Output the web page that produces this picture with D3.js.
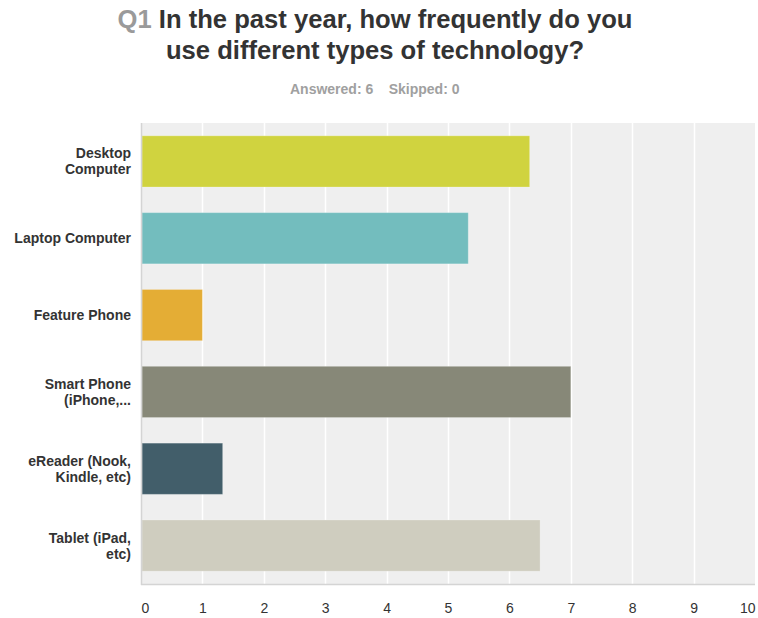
<!DOCTYPE html>
<html>
<head>
<meta charset="utf-8">
<script src="https://cdn.jsdelivr.net/npm/d3@7"></script>
<style>
  html, body { margin: 0; padding: 0; background: #fff; }
  svg { display: block; font-family: "Liberation Sans", Arial, Helvetica, sans-serif; }
</style>
</head>
<body>
<svg id="chart" width="758" height="618"></svg>
<script>
const categories = [
  ["Desktop", "Computer"],
  ["Laptop Computer"],
  ["Feature Phone"],
  ["Smart Phone", "(iPhone,..."],
  ["eReader (Nook,", "Kindle, etc)"],
  ["Tablet (iPad,", "etc)"]
];
const values = [6.33, 5.33, 1, 7, 1.33, 6.5];
const colors = ["#d0d33f", "#73bdbe", "#e4ad35", "#878878", "#425e6a", "#cfcdbf"];
const xTicks = [0, 1, 2, 3, 4, 5, 6, 7, 8, 9, 10];
const titlePrefix = "Q1";
const titleLines = ["In the past year, how frequently do you", "use different types of technology?"];
const answeredText = "Answered: 6";
const skippedText = "Skipped: 0";

const svg = d3.select("#chart");
const margin = { left: 141, right: 3, top: 123, bottom: 34 };
const W = 758, H = 618;
const x0 = margin.left, x1 = W - margin.right;
const y0 = margin.top, y1 = H - margin.bottom;

const x = d3.scaleLinear().domain([0, 10]).range([x0, x1]);
const idx = d3.range(categories.length);
const y = d3.scaleBand().domain(idx).range([y0, y1]).paddingInner(1/3).paddingOuter(1/6);

// Title
const t1 = svg.append("text").attr("x", 375).attr("y", 27.5).attr("text-anchor", "middle")
  .style("font-size", "25.6px").style("font-weight", "bold");
t1.append("tspan").attr("fill", "#9a9a9a").text(titlePrefix + " ");
t1.append("tspan").attr("fill", "#333333").text(titleLines[0]);
svg.append("text").attr("x", 375).attr("y", 59).attr("text-anchor", "middle")
  .style("font-size", "25.6px").style("font-weight", "bold").attr("fill", "#333333")
  .text(titleLines[1]);

// Subtitle
svg.append("text").attr("x", 290).attr("y", 94).style("font-size", "14px").style("font-weight", "bold")
  .attr("fill", "#a0a0a0").text(answeredText);
svg.append("text").attr("x", 459.5).attr("y", 94).attr("text-anchor", "end").style("font-size", "14px").style("font-weight", "bold")
  .attr("fill", "#a0a0a0").text(skippedText);

// Plot background
svg.append("rect").attr("x", x0).attr("y", y0).attr("width", x1 - x0).attr("height", y1 - y0).attr("fill", "#efefef");

// Gridlines
svg.append("g").selectAll("line").data(xTicks.slice(1, -1)).join("line")
  .attr("x1", d => Math.round(x(d)) + 0.5).attr("x2", d => Math.round(x(d)) + 0.5)
  .attr("y1", y0).attr("y2", y1)
  .attr("stroke", "#ffffff").attr("stroke-width", 1.5);

// Bars
svg.append("g").selectAll("rect").data(idx).join("rect")
  .attr("x", x(0) + 1)
  .attr("y", i => y(i))
  .attr("width", i => x(values[i]) - x(0) - 1)
  .attr("height", y.bandwidth())
  .attr("fill", i => colors[i])
  .attr("stroke", "rgba(255,255,255,0.25)").attr("stroke-width", 1);

// Axes lines
svg.append("line").attr("x1", x0 + 0.5).attr("x2", x0 + 0.5).attr("y1", y0).attr("y2", y1 + 1)
  .attr("stroke", "#d4d4d4").attr("stroke-width", 1.5);
svg.append("line").attr("x1", x0).attr("x2", x1).attr("y1", y1 + 0.5).attr("y2", y1 + 0.5)
  .attr("stroke", "#d4d4d4").attr("stroke-width", 1.5);

// X axis tick labels
const xAxis = d3.axisBottom(x).tickValues(xTicks).tickSize(0).tickPadding(0).tickFormat(d3.format("d"));
const gx = svg.append("g").attr("transform", `translate(0,${y1})`).call(xAxis);
gx.select(".domain").remove();
gx.selectAll("text")
  .attr("y", 28.5).attr("dy", null)
  .style("font-size", "14px").attr("fill", "#333333")
  .attr("font-family", null)
  .attr("text-anchor", (d, i) => i === 0 ? "start" : (i === xTicks.length - 1 ? "end" : "middle"));

// Y labels
const gy = svg.append("g");
idx.forEach(i => {
  const lines = categories[i];
  const cy = y(i) + y.bandwidth() / 2;
  const lh = 16;
  const startY = cy - (lines.length - 1) * lh / 2 + 5;
  const txt = gy.append("text").attr("text-anchor", "end")
    .style("font-size", "14px").style("font-weight", "bold").attr("fill", "#333333");
  lines.forEach((l, k) => {
    txt.append("tspan").attr("x", 131).attr("y", startY + k * lh).text(l);
  });
});
</script>
</body>
</html>
